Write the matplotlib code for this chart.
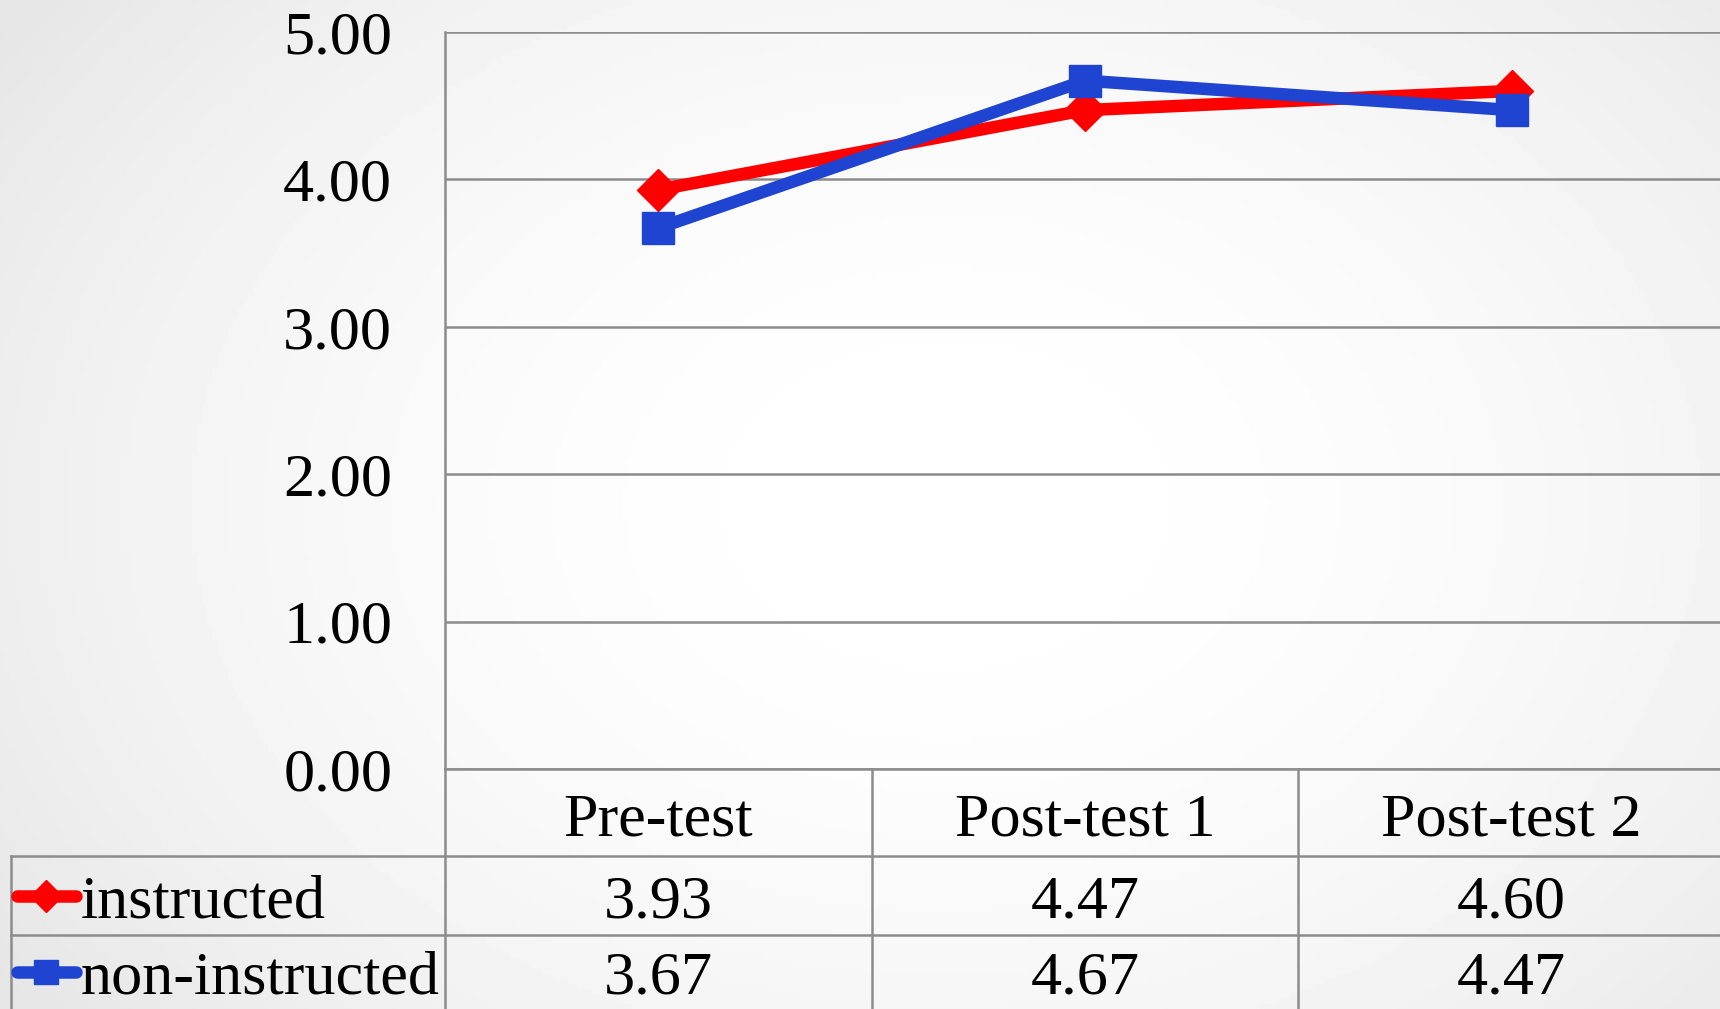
import numpy as np
import matplotlib.pyplot as plt
from matplotlib.lines import Line2D
from matplotlib.transforms import blended_transform_factory

plt.rcParams['font.family'] = ['Liberation Serif', 'DejaVu Serif']

# Data
categories = ['Pre-test', 'Post-test 1', 'Post-test 2']
series_names = ['instructed', 'non-instructed']
instructed = [3.93, 4.47, 4.60]
non_instructed = [3.67, 4.67, 4.47]
y_ticks = [0, 1, 2, 3, 4, 5]

W, H = 1720, 1009
fig = plt.figure(figsize=(W / 100, H / 100), dpi=100)
FS = 44.8


def fx(px):
    return px / W


def fy(py):
    return 1 - py / H


# Soft radial background
bg = fig.add_axes([0, 0, 1, 1], zorder=-10)
yy, xx = np.mgrid[0:1:200j, 0:1:340j]
rr = np.sqrt(((xx - 0.55) / 0.6) ** 2 + ((yy - 0.5) / 0.75) ** 2)
shade = np.clip(1 - 0.08 * rr ** 2, 0.9, 1)
bg.imshow(shade, cmap='gray', vmin=0, vmax=1, extent=[0, 1, 0, 1], aspect='auto')
bg.axis('off')

# Main plot
ax = fig.add_axes([fx(445), fy(769), fx(1725) - fx(445), fy(32) - fy(769)])
ax.set_facecolor('none')
x = np.arange(len(categories)) + 0.5
red = '#ff0000'
blue = '#1f44d2'
ax.plot(x, instructed, color=red, lw=9, marker='D', ms=21, zorder=3, clip_on=False)
ax.plot(x, non_instructed, color=blue, lw=9, marker='s', ms=23, zorder=4, clip_on=False)
ax.set_xlim(0, 3)
ax.set_ylim(0, 5)
ax.set_xticks([])
ax.set_yticks(y_ticks)
ax.set_yticklabels([f'{v:.2f}' for v in y_ticks])
ax.tick_params(axis='y', length=0, pad=38, labelsize=FS)
ax.grid(axis='y', color='#8c8c8c', lw=1.8)
ax.set_axisbelow(True)
for s in ['top', 'right']:
    ax.spines[s].set_visible(False)
for s in ['left', 'bottom']:
    ax.spines[s].set_color('#8c8c8c')
    ax.spines[s].set_linewidth(1.8)

# Data table under the plot
grid_c = '#8c8c8c'
blend = blended_transform_factory(ax.transData, fig.transFigure)


def fig_line(xs, ys, **kw):
    fig.add_artist(Line2D(xs, ys, transform=fig.transFigure, clip_on=False, **kw))


for py in [856, 935]:
    fig_line([fx(11), 1.01], [fy(py), fy(py)], color=grid_c, lw=1.8)
fig_line([fx(11), fx(11)], [fy(856), -0.01], color=grid_c, lw=1.8)
for c in range(len(categories)):
    fig.add_artist(Line2D([c, c], [fy(769), -0.01], transform=blend, color=grid_c,
                          lw=1.8, clip_on=False))

for i, cat in enumerate(categories):
    ax.text(x[i], fy(835), cat, transform=blend, ha='center', va='baseline', fontsize=FS)

rows = [instructed, non_instructed]
colors = [red, blue]
markers = ['D', 's']
msizes = [16, 17]
baselines = [917, 994]
centers = [896, 972]
for name, vals, col, mk, msz, base, cen in zip(series_names, rows, colors, markers,
                                               msizes, baselines, centers):
    fig_line([fx(17), fx(76)], [fy(cen), fy(cen)], color=col, lw=9,
             solid_capstyle='round')
    fig_line([fx(46)], [fy(cen)], color=col, marker=mk, ms=msz, lw=0)
    fig.text(fx(81), fy(base), name, ha='left', va='baseline', fontsize=FS)
    for i, v in enumerate(vals):
        ax.text(x[i], fy(base), f'{v:.2f}', transform=blend, ha='center',
                va='baseline', fontsize=FS)

fig.savefig('out.png', dpi=100)
